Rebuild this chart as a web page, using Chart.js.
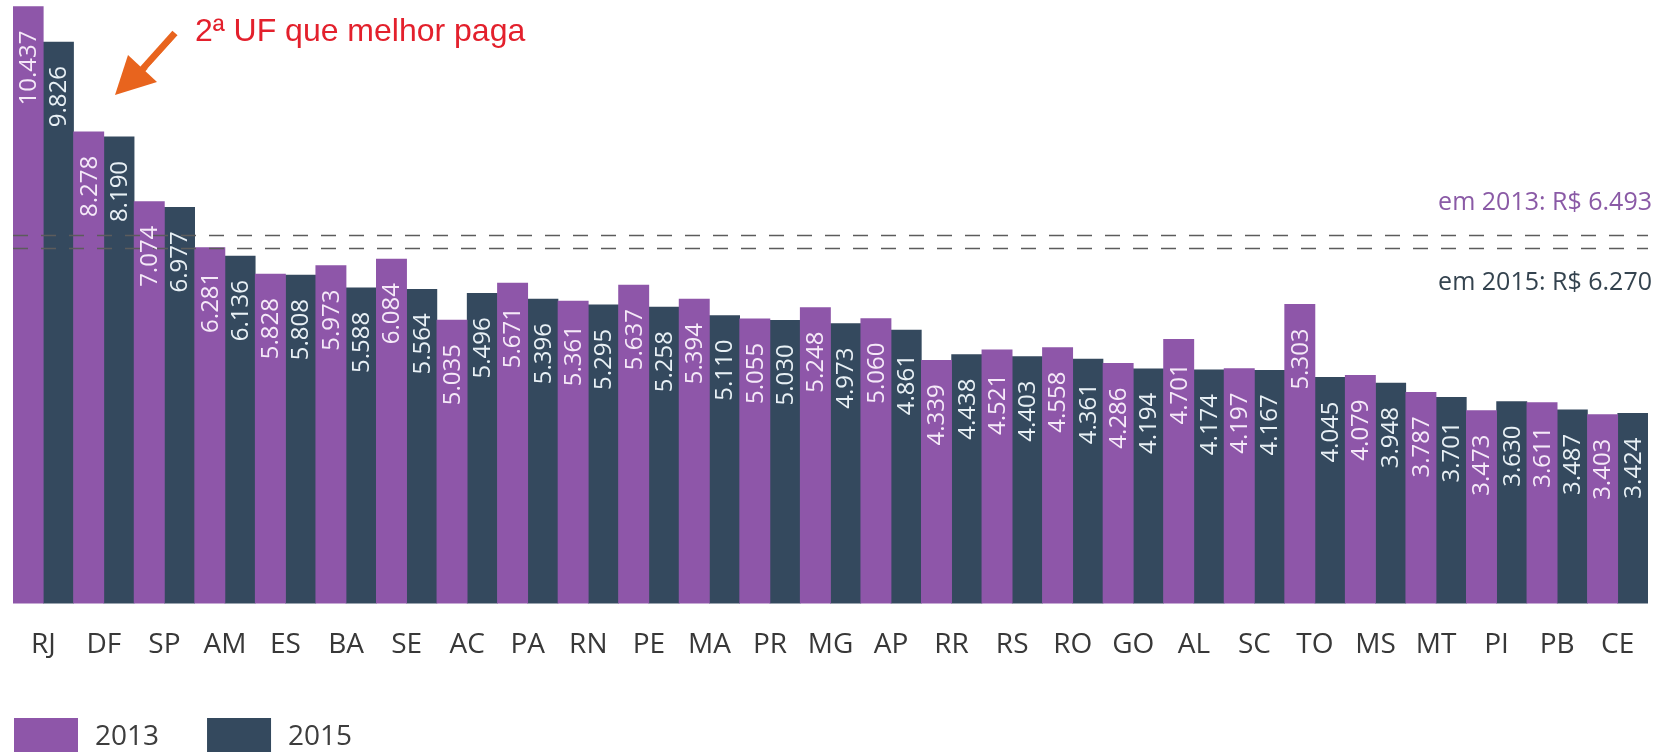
<!DOCTYPE html>
<html>
<head>
<meta charset="utf-8">
<script src="https://cdn.jsdelivr.net/npm/chart.js@4.4.1/dist/chart.umd.min.js"></script>
<style>
  html, body { margin: 0; padding: 0; background: #fff; overflow: hidden; }
  #wrap { width: 1666px; height: 752px; position: relative; }
</style>
</head>
<body>
<div id="wrap"><canvas id="grafico"></canvas></div>
<script>
const estados = ["RJ", "DF", "SP", "AM", "ES", "BA", "SE", "AC", "PA", "RN", "PE", "MA", "PR", "MG",
  "AP", "RR", "RS", "RO", "GO", "AL", "SC", "TO", "MS", "MT", "PI", "PB", "CE"];
const valores2013 = [10437, 8278, 7074, 6281, 5828, 5973, 6084, 5035, 5671, 5361, 5637, 5394, 5055, 5248,
  5060, 4339, 4521, 4558, 4286, 4701, 4197, 5303, 4079, 3787, 3473, 3611, 3403];
const valores2015 = [9826, 8190, 6977, 6136, 5808, 5588, 5564, 5496, 5396, 5295, 5258, 5110, 5030, 4973,
  4861, 4438, 4403, 4361, 4194, 4174, 4167, 4045, 3948, 3701, 3630, 3487, 3424];
const anos = ["2013", "2015"];
const medias = [6493, 6270];
const textosMedia = ["em 2013: R$ 6.493", "em 2015: R$ 6.270"];
const anotacao = "2ª UF que melhor paga";

const roxo = "#8e56a9";
const azul = "#34495e";
const fonte = "'Open Sans', 'Noto Sans', sans-serif";

function formata(v) {
    return String(v).replace(/\B(?=(\d{3})+(?!\d))/g, ".");
}

// linhas tracejadas das medias
const linhasMedia = {
    id: "linhasMedia",
    afterDatasetsDraw(chart) {
        const ctx = chart.ctx;
        const area = chart.chartArea;
        const y = chart.scales.y;
        ctx.save();
        ctx.setLineDash([15, 13]);
        ctx.lineWidth = 1.5;
        ctx.strokeStyle = "#5c5c5c";
        for (let i = 0; i < medias.length; i++) {
            const py = Math.round(y.getPixelForValue(medias[i])) + 0.5;
            ctx.beginPath();
            ctx.moveTo(area.left, py);
            ctx.lineTo(area.right, py);
            ctx.stroke();
        }
        ctx.setLineDash([]);
        ctx.font = "25px " + fonte;
        ctx.textAlign = "right";
        ctx.textBaseline = "alphabetic";
        ctx.fillStyle = "#8a5aa6";
        ctx.fillText(textosMedia[0], 1652, y.getPixelForValue(medias[0]) - 25);
        ctx.fillStyle = "#34434f";
        ctx.fillText(textosMedia[1], 1652, y.getPixelForValue(medias[1]) + 42);
        ctx.restore();
    }
};

// valores dentro das barras
const rotulos = {
    id: "rotulos",
    afterDatasetsDraw(chart) {
        const ctx = chart.ctx;
        const coresTexto = ["#f5e9f8", "#e8f0f5"];
        ctx.save();
        ctx.font = "24px " + fonte;
        ctx.textAlign = "right";
        ctx.textBaseline = "middle";
        chart.data.datasets.forEach((ds, i) => {
            const meta = chart.getDatasetMeta(i);
            ctx.fillStyle = coresTexto[i];
            meta.data.forEach((bar, j) => {
                ctx.save();
                ctx.translate(bar.x + 1, bar.y + 24);
                ctx.rotate(-Math.PI / 2);
                ctx.fillText(formata(ds.data[j]), 0, 0);
                ctx.restore();
            });
        });
        ctx.restore();
    }
};

// legenda e seta
const extras = {
    id: "extras",
    afterDraw(chart) {
        const ctx = chart.ctx;
        ctx.save();
        // legenda
        ctx.font = "28px " + fonte;
        ctx.textBaseline = "middle";
        ctx.textAlign = "left";
        let x = 14;
        chart.data.datasets.forEach((ds) => {
            ctx.fillStyle = ds.backgroundColor;
            ctx.fillRect(x, 718, 64, 40);
            ctx.fillStyle = "#3d3d3d";
            ctx.fillText(ds.label, x + 81, 737);
            x = x + 81 + ctx.measureText(ds.label).width + 48;
        });

        // anotacao
        ctx.fillStyle = "#e3202c";
        ctx.font = "32px 'Liberation Sans', Arial, sans-serif";
        ctx.textBaseline = "alphabetic";
        ctx.fillText(anotacao, 195, 41);

        // seta laranja
        ctx.strokeStyle = "#e8641e";
        ctx.lineWidth = 7;
        ctx.beginPath();
        ctx.moveTo(175, 33);
        ctx.lineTo(141, 71);
        ctx.stroke();
        ctx.strokeStyle = "#ffffff";
        ctx.lineWidth = 1.5;
        ctx.beginPath();
        ctx.moveTo(178, 36);
        ctx.lineTo(148, 69);
        ctx.stroke();
        ctx.fillStyle = "#e8641e";
        ctx.beginPath();
        ctx.moveTo(115, 95);
        ctx.lineTo(157, 82);
        ctx.lineTo(128, 55);
        ctx.closePath();
        ctx.fill();
        ctx.restore();
    }
};

new Chart(document.getElementById("grafico").getContext("2d"), {
    type: "bar",
    data: {
        labels: estados,
        datasets: [{
            label: anos[0],
            data: valores2013,
            backgroundColor: roxo,
            borderWidth: 0
        }, {
            label: anos[1],
            data: valores2015,
            backgroundColor: azul,
            borderWidth: 0
        }]
    },
    options: {
        responsive: true,
        maintainAspectRatio: false,
        animation: false,
        layout: {
            padding: { left: 13, right: 18, top: 0, bottom: 65 }
        },
        datasets: {
            bar: {
                barPercentage: 1,
                categoryPercentage: 1
            }
        },
        plugins: {
            legend: { display: false },
            tooltip: { enabled: false }
        },
        scales: {
            x: {
                grid: { display: false, drawTicks: false },
                border: { display: false },
                ticks: {
                    autoSkip: false,
                    maxRotation: 0,
                    padding: 25,
                    color: "#383838",
                    font: { family: fonte, size: 28 }
                }
            },
            y: {
                display: false,
                min: 150,
                max: 10550
            }
        }
    },
    plugins: [linhasMedia, rotulos, extras]
});
</script>
</body>
</html>
